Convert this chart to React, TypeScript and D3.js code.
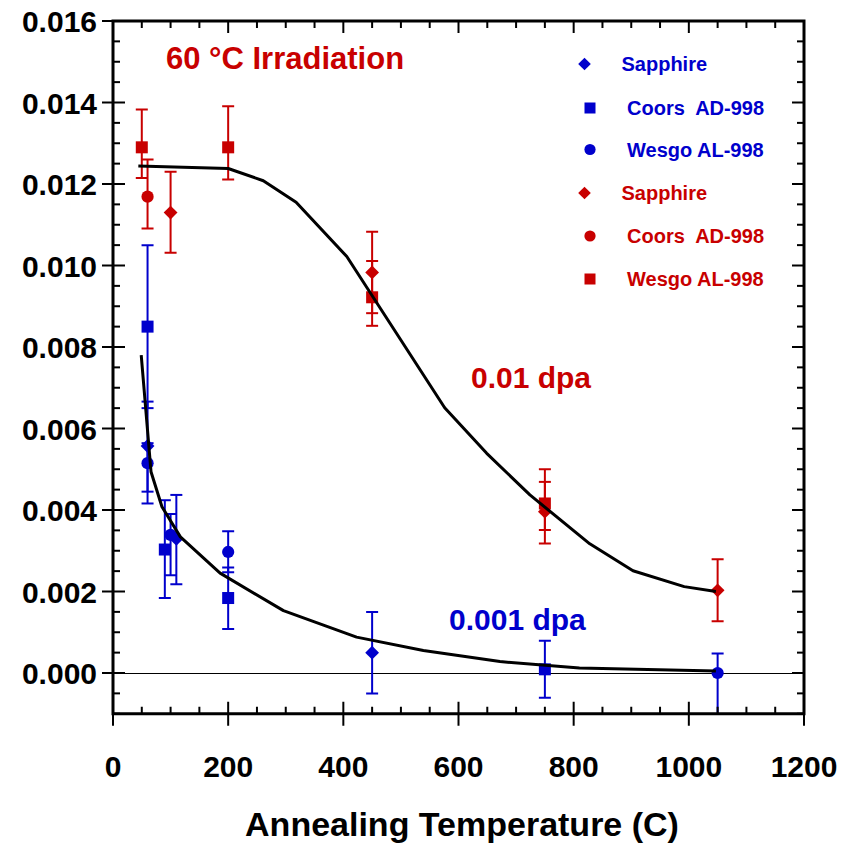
import React from "react";
import * as d3 from "d3";

// ---------- data ----------
const xTickValues = [0, 200, 400, 600, 800, 1000, 1200];
const yTickValues = [0, 0.002, 0.004, 0.006, 0.008, 0.01, 0.012, 0.014, 0.016];

// 0.001 dpa (blue)
const blueSapphireX = [60, 110, 450];
const blueSapphireY = [0.00557, 0.00329, 0.0005];
const blueSapphireLo = [0.00445, 0.00218, -0.0005];
const blueSapphireHi = [0.00666, 0.00437, 0.0015];

const blueCoorsX = [60, 90, 200, 750];
const blueCoorsY = [0.0085, 0.00303, 0.00184, 0.00009];
const blueCoorsLo = [0.0065, 0.00184, 0.00108, -0.00061];
const blueCoorsHi = [0.0105, 0.00424, 0.00259, 0.00079];

const blueWesgoX = [60, 100, 200, 1050];
const blueWesgoY = [0.00515, 0.00339, 0.00297, 0.0];
const blueWesgoLo = [0.00416, 0.0024, 0.00247, -0.0011];
const blueWesgoHi = [0.00564, 0.0039, 0.00348, 0.00048];

// 0.01 dpa (red)
const redSapphireX = [100, 450, 750, 1050];
const redSapphireY = [0.0113, 0.00983, 0.00396, 0.00203];
const redSapphireLo = [0.01031, 0.00883, 0.00318, 0.00127];
const redSapphireHi = [0.0123, 0.01083, 0.005, 0.00279];

const redCoorsX = [60];
const redCoorsY = [0.01169];
const redCoorsLo = [0.01091];
const redCoorsHi = [0.0126];

const redWesgoX = [50, 200, 450, 750];
const redWesgoY = [0.0129, 0.0129, 0.00922, 0.00416];
const redWesgoLo = [0.01215, 0.01211, 0.00852, 0.00351];
const redWesgoHi = [0.01383, 0.01391, 0.01011, 0.00469];

// fitted curves
const fit01X = [44, 200, 261, 318, 406, 576, 649, 724, 828, 903, 992, 1047];
const fit01Y = [0.01244, 0.01238, 0.01208, 0.01155, 0.01022, 0.00651, 0.00539, 0.00437, 0.00317, 0.00251, 0.00212, 0.002];
const fit001X = [49, 66, 85, 117, 186, 296, 423, 539, 672, 810, 1047];
const fit001Y = [0.0078, 0.00494, 0.00408, 0.00334, 0.00245, 0.00153, 0.00088, 0.00055, 0.00028, 0.00012, 0.00005];

const legendLabels = ["Sapphire", "Coors  AD-998", "Wesgo AL-998", "Sapphire", "Coors  AD-998", "Wesgo AL-998"];
const legendShapes = ["diamond", "square", "circle", "diamond", "circle", "square"];

const BLUE = "#0000cc";
const RED = "#c80000";
const FONT = "'Liberation Sans', Arial, Helvetica, sans-serif";

function Marker({ cx, cy, shape, color, size }: { cx: number; cy: number; shape: string; color: string; size: number }) {
  const h = size / 2;
  if (shape === "square") return <rect x={cx - h} y={cy - h} width={size} height={size} fill={color} />;
  if (shape === "circle") return <circle cx={cx} cy={cy} r={h * 1.02} fill={color} />;
  const d = h * 1.15;
  return <path d={`M${cx},${cy - d}L${cx + d},${cy}L${cx},${cy + d}L${cx - d},${cy}Z`} fill={color} />;
}

export default function App() {
  const W = 858, H = 843;
  const left = 113, right = 804, top = 21, bottom = 713.75;
  const x = d3.scaleLinear().domain([0, 1200]).range([left, right]);
  const y = d3.scaleLinear().domain([-0.001, 0.016]).range([bottom, top]);

  const series = [
    { xs: blueSapphireX, ys: blueSapphireY, lo: blueSapphireLo, hi: blueSapphireHi, shape: "diamond", color: BLUE },
    { xs: blueCoorsX, ys: blueCoorsY, lo: blueCoorsLo, hi: blueCoorsHi, shape: "square", color: BLUE },
    { xs: blueWesgoX, ys: blueWesgoY, lo: blueWesgoLo, hi: blueWesgoHi, shape: "circle", color: BLUE },
    { xs: redSapphireX, ys: redSapphireY, lo: redSapphireLo, hi: redSapphireHi, shape: "diamond", color: RED },
    { xs: redCoorsX, ys: redCoorsY, lo: redCoorsLo, hi: redCoorsHi, shape: "circle", color: RED },
    { xs: redWesgoX, ys: redWesgoY, lo: redWesgoLo, hi: redWesgoHi, shape: "square", color: RED },
  ];

  const line = d3
    .line<[number, number]>()
    .x((d) => x(d[0]))
    .y((d) => y(d[1]));
  const fit01 = fit01X.map((v, i) => [v, fit01Y[i]] as [number, number]);
  const fit001 = fit001X.map((v, i) => [v, fit001Y[i]] as [number, number]);

  const xMinor = d3.range(0, 1201, 50).filter((v) => v % 200 !== 0);
  const yMinor = d3.range(-0.001, 0.01601, 0.0005).filter((v) => Math.abs((v / 0.002) - Math.round(v / 0.002)) > 1e-6);
  const fmt = d3.format(".3f");

  const capW = 6;
  const legendRowsY = [64, 108, 149.5, 193, 236, 279];
  const legendMarkerX = [584.5, 590, 590, 584.5, 590, 590];
  const legendTextX = [621.5, 627, 627, 621.5, 627, 627];

  return (
    <svg width={W} height={H} style={{ position: "absolute", left: 0, top: 0, background: "#fff" }} fontFamily={FONT} fontWeight="bold">
      <defs>
        <clipPath id="plotClip">
          <rect x={left} y={top} width={right - left} height={bottom - top} />
        </clipPath>
      </defs>
      <rect width={W} height={H} fill="#fff" />

      {/* zero line */}
      <line x1={left} x2={right} y1={y(0) + 0.5} y2={y(0) + 0.5} stroke="#000" strokeWidth={1} />

      {/* error bars and markers */}
      <g clipPath="url(#plotClip)">
        {series.map((s, si) =>
          s.xs.map((xv, i) => (
            <g key={`e${si}-${i}`} stroke={s.color} strokeWidth={2}>
              <line x1={x(xv)} x2={x(xv)} y1={y(s.lo[i])} y2={y(s.hi[i])} />
              <line x1={x(xv) - capW} x2={x(xv) + capW} y1={y(s.lo[i])} y2={y(s.lo[i])} />
              <line x1={x(xv) - capW} x2={x(xv) + capW} y1={y(s.hi[i])} y2={y(s.hi[i])} />
            </g>
          ))
        )}
        {series.map((s, si) =>
          s.xs.map((xv, i) => (
            <Marker key={`m${si}-${i}`} cx={x(xv)} cy={y(s.ys[i])} shape={s.shape} color={s.color} size={12} />
          ))
        )}
        <path d={line(fit01) || ""} fill="none" stroke="#000" strokeWidth={3} strokeLinejoin="round" />
        <path d={line(fit001) || ""} fill="none" stroke="#000" strokeWidth={3} strokeLinejoin="round" />
      </g>

      {/* frame */}
      <rect x={left} y={top} width={right - left} height={bottom - top} fill="none" stroke="#000" strokeWidth={3} />

      {/* x ticks */}
      {xTickValues.map((v) => (
        <g key={`xt${v}`} stroke="#000" strokeWidth={2}>
          <line x1={x(v)} x2={x(v)} y1={bottom - 12} y2={bottom + 12} />
          <line x1={x(v)} x2={x(v)} y1={top} y2={top + 12} />
        </g>
      ))}
      {xMinor.map((v) => (
        <g key={`xm${v}`} stroke="#000" strokeWidth={2}>
          <line x1={x(v)} x2={x(v)} y1={bottom - 7} y2={bottom} />
          <line x1={x(v)} x2={x(v)} y1={top} y2={top + 7} />
        </g>
      ))}
      {/* y ticks */}
      {yTickValues.map((v) => (
        <g key={`yt${v}`} stroke="#000" strokeWidth={2}>
          <line x1={left - 11} x2={left + 12} y1={y(v)} y2={y(v)} />
          <line x1={right - 12} x2={right} y1={y(v)} y2={y(v)} />
        </g>
      ))}
      {yMinor.map((v, i) => (
        <g key={`ym${i}`} stroke="#000" strokeWidth={2}>
          <line x1={left} x2={left + 7} y1={y(v)} y2={y(v)} />
          <line x1={right - 7} x2={right} y1={y(v)} y2={y(v)} />
        </g>
      ))}

      {/* tick labels */}
      {xTickValues.map((v) => (
        <text key={`xl${v}`} x={x(v)} y={777} textAnchor="middle" fontSize={30} fill="#000">
          {v}
        </text>
      ))}
      {yTickValues.map((v) => (
        <text key={`yl${v}`} x={97} y={y(v) + 11} textAnchor="end" fontSize={30} fill="#000">
          {fmt(v)}
        </text>
      ))}

      {/* axis title */}
      <text x={462} y={836} textAnchor="middle" fontSize={34} fill="#000">
        Annealing Temperature (C)
      </text>

      {/* annotations */}
      <text x={166} y={69} fontSize={31} fill={RED}>60 °C Irradiation</text>
      <text x={471} y={388} fontSize={30} fill={RED}>0.01 dpa</text>
      <text x={449} y={630} fontSize={30} fill={BLUE}>0.001 dpa</text>

      {/* legend */}
      {legendLabels.map((lab, i) => {
        const c = i < 3 ? BLUE : RED;
        return (
          <g key={`lg${i}`}>
            <Marker cx={legendMarkerX[i]} cy={legendRowsY[i]} shape={legendShapes[i]} color={c} size={11} />
            <text x={legendTextX[i]} y={legendRowsY[i] + 7} fontSize={20} fill={c} style={{ whiteSpace: "pre" }}>
              {lab}
            </text>
          </g>
        );
      })}
    </svg>
  );
}
